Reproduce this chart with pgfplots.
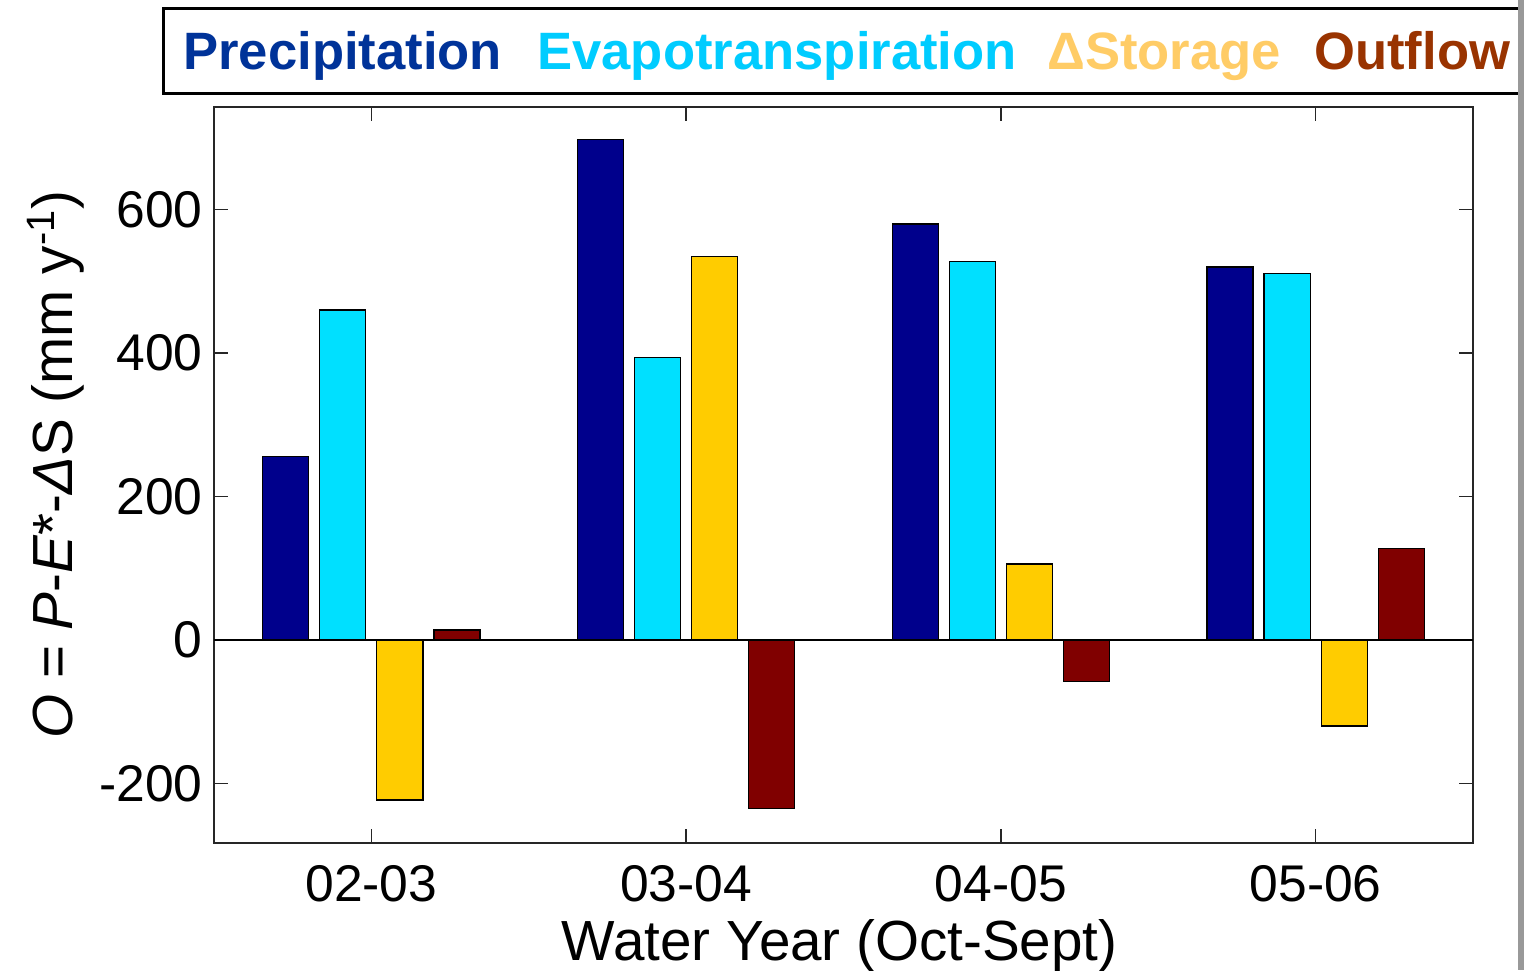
\documentclass[border=0pt]{standalone}
\usepackage{pgfplots}
\pgfplotsset{compat=1.18}
\usepackage{fontspec}
\setmainfont{Liberation Sans}
\definecolor{cP}{RGB}{0,0,140}
\definecolor{cE}{RGB}{0,224,255}
\definecolor{cS}{RGB}{255,204,0}
\definecolor{cO}{RGB}{128,0,0}
\definecolor{lP}{RGB}{0,51,153}
\definecolor{lE}{RGB}{0,204,255}
\definecolor{lS}{RGB}{255,204,102}
\definecolor{lO}{RGB}{153,51,0}
\pgfplotstableread{
x P E S O
1 256 460 -223 14
2 698 394 535 -235
3 580 528 106 -58
4 520 511 -120 127
}\datatable
\begin{document}
\begin{tikzpicture}
\useasboundingbox (0,0) rectangle (762pt,485pt);
\begin{axis}[
  at={(107pt,63.5pt)}, anchor=south west,
  width=629.5pt, height=368pt, scale only axis,
  xmin=0.5, xmax=4.5, ymin=-283, ymax=743,
  xtick={1,2,3,4}, xticklabels={02-03,03-04,04-05,05-06},
  ytick={-200,0,200,400,600}, yticklabels={-200,0,200,400,600},
  tick align=inside, xtick pos=both, ytick pos=both,
  major tick length=7pt,
  axis line style={line width=0.75pt, black!85},
  tick style={line width=0.75pt, black!85},
  ticklabel style={font=\fontsize{25.8}{30}\selectfont},
  xticklabel style={anchor=base, yshift=-29pt},
  yticklabel style={anchor=east, inner sep=0pt, xshift=-5.5pt},
  xlabel={Water Year (Oct-Sept)},
  ylabel={\textit{O} = \textit{P}-\textit{E}*-\textit{Δ}S (mm y\textsuperscript{-1})},
  label style={font=\fontsize{28.3}{32}\selectfont},
  xlabel style={at={(axis description cs:0.497,-0.160)}, anchor=base},
  ylabel style={at={(axis description cs:-0.112,0.514)}, anchor=base},
  bar width=0.1464,
  every axis plot/.append style={ybar, draw=black, line width=0.6pt},
]
\addplot[fill=cP, bar shift=-0.272] table[x=x,y=P]{\datatable};
\addplot[fill=cE, bar shift=-0.0907] table[x=x,y=E]{\datatable};
\addplot[fill=cS, bar shift=0.0907] table[x=x,y=S]{\datatable};
\addplot[fill=cO, bar shift=0.272] table[x=x,y=O]{\datatable};
\addplot[sharp plot, black, line width=0.75pt, forget plot] coordinates {(0.5,0) (4.5,0)};
\end{axis}
% legend box
\draw[line width=1.5pt, black, fill=white] (81.5pt,438pt) rectangle (775pt,480.5pt);
\begin{scope}[every node/.style={anchor=base west, inner sep=0pt, font=\fontsize{26.3}{30}\selectfont\bfseries}]
\node[text=lP] at (91.5pt,450pt) {Precipitation};
\node[text=lE] at (268.5pt,450pt) {Evapotranspiration};
\node[text=lS] at (523.5pt,450pt) {ΔStorage};
\node[text=lO] at (657pt,450pt) {Outflow};
\end{scope}
\fill[black!40] (759pt,0pt) rectangle (765pt,485pt);
\end{tikzpicture}
\end{document}
